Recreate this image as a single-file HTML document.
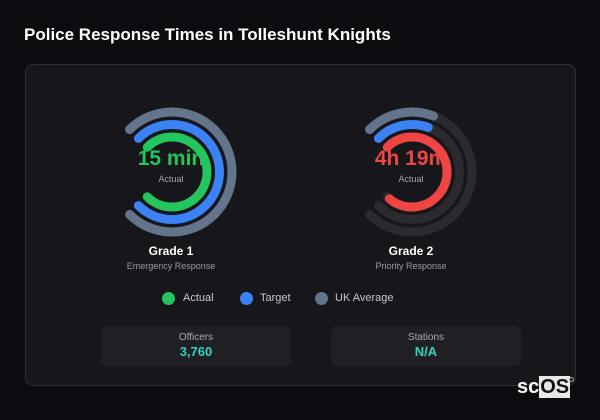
<!DOCTYPE html>
<html><head><meta charset="utf-8"><style>
*{margin:0;padding:0;box-sizing:border-box}
body{width:600px;height:420px;background:#0c0c10;font-family:"Liberation Sans",sans-serif;position:relative;overflow:hidden;color:#fff}
.title{position:absolute;left:24px;top:25px;font-size:17px;font-weight:bold;color:#fff}
.card{position:absolute;left:25px;top:64px;width:551px;height:322px;background:#17171b;border:1px solid #2e2e33;border-radius:8px}
.t{position:absolute;text-align:center;white-space:nowrap}
.box{position:absolute;top:326px;width:190px;height:40px;background:#202024;border-radius:6px}
.dot{position:absolute;top:292px;width:13px;height:13px;border-radius:50%}
.lg{position:absolute;top:292px;font-size:11px;color:#c8c8cc}
</style></head><body>
<div class="title">Police Response Times in Tolleshunt Knights</div>
<div class="card"></div>
<div class="t" style="left:111px;width:120px;top:147px;font-size:21px;font-weight:bold;color:#22c55e">15 min</div>
<div class="t" style="left:111px;width:120px;top:174px;font-size:9px;color:#a0a0a6">Actual</div>
<div class="t" style="left:351px;width:120px;top:147px;font-size:21px;font-weight:bold;color:#ef4444">4h 19m</div>
<div class="t" style="left:351px;width:120px;top:174px;font-size:9px;color:#a0a0a6">Actual</div>
<svg style="position:absolute;left:0;top:0" width="600" height="420" fill="none" stroke-width="9" stroke-linecap="round">
<path d="M129.57 129.57 A60 60 0 1 1 129.57 214.43" stroke="#64748b"/>
<path d="M138.41 138.41 A47.5 47.5 0 1 1 138.41 205.59" stroke="#3b82f6"/>
<path d="M147.25 147.25 A35 35 0 1 1 147.25 196.75" stroke="#22c55e"/>
<path d="M369.57 129.57 A60 60 0 1 1 369.57 214.43" stroke="#2a2a2f"/>
<path d="M378.41 138.41 A47.5 47.5 0 1 1 378.41 205.59" stroke="#2a2a2f"/>
<path d="M387.25 147.25 A35 35 0 1 1 387.25 196.75" stroke="#2a2a2f"/>
<path d="M369.57 129.57 A60 60 0 0 1 433.5 116" stroke="#64748b"/>
<path d="M378.41 138.41 A47.5 47.5 0 0 1 428.2 127.4" stroke="#3b82f6"/>
<path d="M387.25 147.25 A35 35 0 1 1 389.5 198.8" stroke="#ef4444"/>
</svg>
<div class="t" style="left:111px;width:120px;top:244px;font-size:12px;font-weight:bold">Grade 1</div>
<div class="t" style="left:111px;width:120px;top:261px;font-size:9px;color:#9a9aa0">Emergency Response</div>
<div class="t" style="left:351px;width:120px;top:244px;font-size:12px;font-weight:bold">Grade 2</div>
<div class="t" style="left:351px;width:120px;top:261px;font-size:9px;color:#9a9aa0">Priority Response</div>
<div class="dot" style="left:162px;background:#22c55e"></div><div class="lg" style="left:183px">Actual</div>
<div class="dot" style="left:240px;background:#3b82f6"></div><div class="lg" style="left:260px">Target</div>
<div class="dot" style="left:315px;background:#64748b"></div><div class="lg" style="left:335px">UK Average</div>
<div class="box" style="left:101px"></div>
<div class="box" style="left:331px"></div>
<div class="t" style="left:101px;width:190px;top:332px;font-size:10px;color:#a8a8ae">Officers</div>
<div class="t" style="left:101px;width:190px;top:344px;font-size:13px;font-weight:bold;color:#2dd4bf">3,760</div>
<div class="t" style="left:331px;width:190px;top:332px;font-size:10px;color:#a8a8ae">Stations</div>
<div class="t" style="left:331px;width:190px;top:344px;font-size:13px;font-weight:bold;color:#2dd4bf">N/A</div>
<div style="position:absolute;left:517px;top:376px;font-size:20px;font-weight:bold;color:#fff;line-height:22px">sc<span style="background:#e8e8ea;color:#111;padding:0 1px">OS</span></div>
<div style="position:absolute;left:569px;top:377px;width:5px;height:5px;border-radius:50%;border:1px solid #aaa"></div>
</body></html>
